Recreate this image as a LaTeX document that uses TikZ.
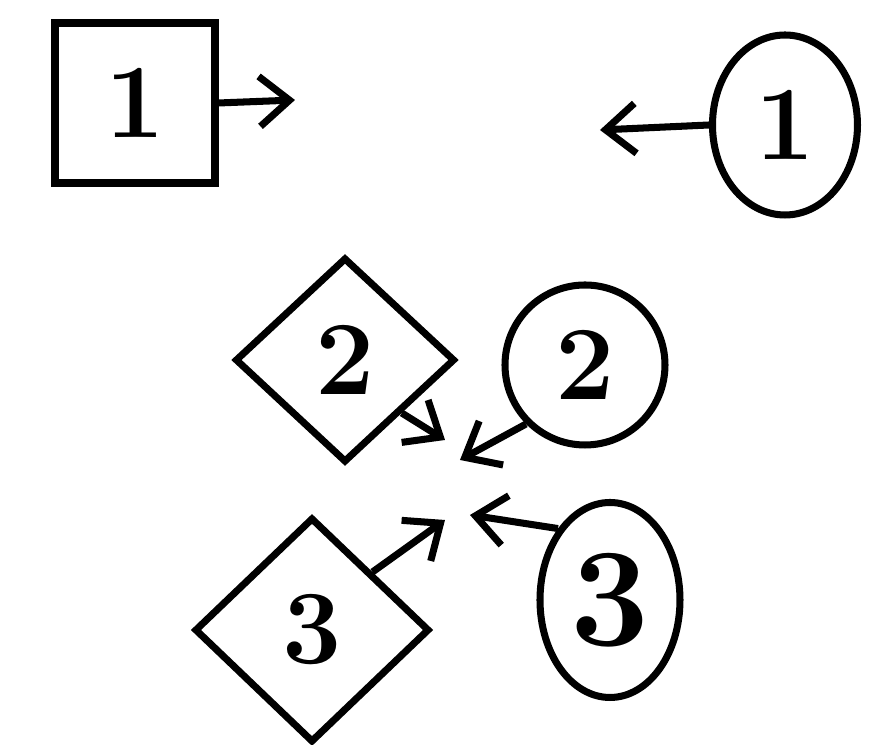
\documentclass[tikz,border=0pt]{standalone}
\usepackage{amsmath,amssymb}
\usetikzlibrary{arrows.meta,shapes.geometric}

\begin{document}
\begin{tikzpicture}[>={Straight Barb[length=3mm,width=5mm]},line width=2pt,
    every node/.style={font=\fontsize{30}{32}\selectfont\bfseries},
    sq/.style={draw,minimum size=1.6cm},
    dia/.style={draw,diamond,minimum width=2.2cm,minimum height=2.05cm,inner sep=0pt},
    rnd/.style={draw,ellipse,inner sep=0pt}]
  \useasboundingbox (0,0) rectangle (8.85,7.45);
  \node[sq] (S1) at (1.35,6.42) {1};
  \node[rnd,minimum width=1.45cm,minimum height=1.8cm] (C1) at (7.85,6.2) {1};
  \node[dia] (D2) at (3.45,3.85) {2};
  \node[rnd,minimum width=1.6cm,minimum height=1.6cm] (C2) at (5.85,3.8) {2};
  \node[dia,minimum width=2.35cm,minimum height=2.25cm] (D3) at (3.12,1.15) {3};
  \node[rnd,minimum width=1.4cm,minimum height=1.95cm,font=\fontsize{40}{42}\selectfont\bfseries] (C3) at (6.1,1.45) {3};

  \coordinate (a1) at (2.95,6.45);
  \coordinate (b1) at (6.0,6.15);
  \coordinate (a2) at (4.45,3.05);
  \coordinate (b2) at (4.6,2.85);
  \coordinate (a3) at (4.45,2.25);
  \coordinate (b3) at (4.7,2.3);

  \draw[->] (S1.east) -- (a1);
  \draw[->] (C1.west) -- (b1);
  \draw[->] (D2.south east) -- (a2);
  \draw[->] (C2.south west) -- (b2);
  \draw[->] (D3.north east) -- (a3);
  \draw[->] (C3.north west) -- (b3);
\end{tikzpicture}
\end{document}
